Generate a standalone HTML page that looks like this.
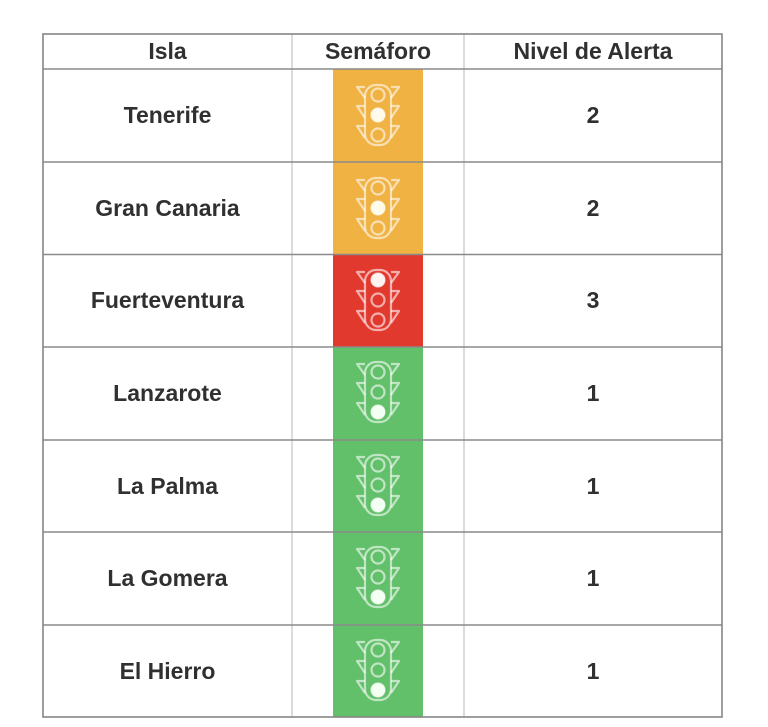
<!DOCTYPE html>
<html>
<head>
<meta charset="utf-8">
<style>
  html,body{margin:0;padding:0;background:#fff;}
  body{width:768px;height:727px;position:relative;overflow:hidden;}
  svg{display:block;position:absolute;left:0;top:0;}
  .t{position:absolute;font-family:"Liberation Sans",Arial,Helvetica,sans-serif;font-weight:bold;color:#303030;font-size:23px;line-height:30px;height:30px;text-align:center;white-space:nowrap;}
  .c1{left:43px;width:249px;}
  .c2{left:292px;width:172px;}
  .c3{left:464px;width:258px;}
</style>
</head>
<body>
<svg width="768" height="727" viewBox="0 0 768 727" xmlns="http://www.w3.org/2000/svg">
  <defs>
    <g id="tl" fill="none" stroke="#ffffff" stroke-opacity="0.6" stroke-width="2.2" stroke-linejoin="round">
      <rect x="-13" y="-30" width="26" height="60" rx="11"/>
      <circle cx="0" cy="-20" r="6.5"/>
      <circle cx="0" cy="0" r="6.5"/>
      <circle cx="0" cy="20" r="6.5"/>
      <polyline points="-13,-28 -21,-28 -13,-17"/>
      <polyline points="13,-28 21,-28 13,-17"/>
      <polyline points="-13,-9 -21,-9 -13,3"/>
      <polyline points="13,-9 21,-9 13,3"/>
      <polyline points="-13,11 -21,11 -13,23"/>
      <polyline points="13,11 21,11 13,23"/>
    </g>
  </defs>

  <rect x="333" y="69" width="90" height="93" fill="#F0B243"/>
  <rect x="333" y="162" width="90" height="93" fill="#F0B243"/>
  <rect x="333" y="255" width="90" height="92" fill="#E2392F"/>
  <rect x="333" y="347" width="90" height="93" fill="#62BF6A"/>
  <rect x="333" y="440" width="90" height="92" fill="#62BF6A"/>
  <rect x="333" y="532" width="90" height="93" fill="#62BF6A"/>
  <rect x="333" y="625" width="90" height="92" fill="#62BF6A"/>

  <use href="#tl" x="378" y="115"/><circle cx="378" cy="115" r="7" fill="#fffbea"/>
  <use href="#tl" x="378" y="208"/><circle cx="378" cy="208" r="7" fill="#fffbea"/>
  <use href="#tl" x="378" y="300"/><circle cx="378" cy="280" r="7" fill="#fff4f2"/>
  <use href="#tl" x="378" y="392"/><circle cx="378" cy="412" r="7" fill="#f4fff4"/>
  <use href="#tl" x="378" y="485"/><circle cx="378" cy="505" r="7" fill="#f4fff4"/>
  <use href="#tl" x="378" y="577"/><circle cx="378" cy="597" r="7" fill="#f4fff4"/>
  <use href="#tl" x="378" y="670"/><circle cx="378" cy="690" r="7" fill="#f4fff4"/>

  <line x1="292" y1="34" x2="292" y2="717" stroke="#cfcfcf" stroke-width="1.5"/>
  <line x1="464" y1="34" x2="464" y2="717" stroke="#cfcfcf" stroke-width="1.5"/>

  <g stroke="#8a8a8a" stroke-width="1.6">
    <line x1="43" y1="69" x2="722" y2="69"/>
    <line x1="43" y1="162" x2="722" y2="162"/>
    <line x1="43" y1="254.5" x2="722" y2="254.5"/>
    <line x1="43" y1="347" x2="722" y2="347"/>
    <line x1="43" y1="440" x2="722" y2="440"/>
    <line x1="43" y1="532" x2="722" y2="532"/>
    <line x1="43" y1="625" x2="722" y2="625"/>
  </g>

  <rect x="43" y="34" width="679" height="683" fill="none" stroke="#858585" stroke-width="1.6"/>
</svg>

<div class="t c1" style="top:36px">Isla</div>
<div class="t c2" style="top:36px">Semáforo</div>
<div class="t c3" style="top:36px">Nivel de Alerta</div>

<div class="t c1" style="top:100px">Tenerife</div>
<div class="t c3" style="top:100px">2</div>

<div class="t c1" style="top:193px">Gran Canaria</div>
<div class="t c3" style="top:193px">2</div>

<div class="t c1" style="top:285px">Fuerteventura</div>
<div class="t c3" style="top:285px">3</div>

<div class="t c1" style="top:378px">Lanzarote</div>
<div class="t c3" style="top:378px">1</div>

<div class="t c1" style="top:471px">La Palma</div>
<div class="t c3" style="top:471px">1</div>

<div class="t c1" style="top:563px">La Gomera</div>
<div class="t c3" style="top:563px">1</div>

<div class="t c1" style="top:656px">El Hierro</div>
<div class="t c3" style="top:656px">1</div>
</body>
</html>
